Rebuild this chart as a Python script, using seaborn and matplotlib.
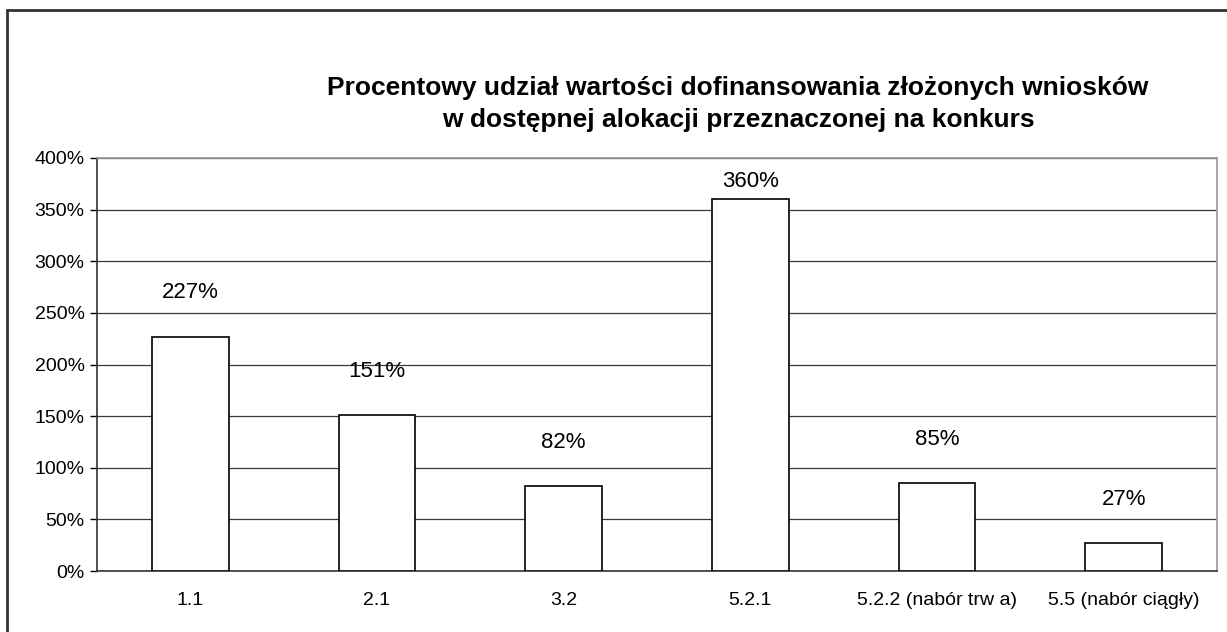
import matplotlib
matplotlib.use("Agg")
import matplotlib.pyplot as plt
import matplotlib.lines as mlines
import seaborn as sns
import pandas as pd

# data
categories = ["1.1", "2.1", "3.2", "5.2.1", "5.2.2 (nabór trw a)", "5.5 (nabór ciągły)"]
shares = [2.27, 1.51, 0.82, 3.60, 0.85, 0.27]
yticks = [0, 0.5, 1.0, 1.5, 2.0, 2.5, 3.0, 3.5, 4.0]

df = pd.DataFrame({"kategoria": categories, "udzial": shares})

sns.set_style("white")
plt.rcParams["font.family"] = ["Liberation Sans", "DejaVu Sans"]
plt.rcParams["text.color"] = "black"
plt.rcParams["xtick.color"] = "black"
plt.rcParams["ytick.color"] = "black"

fig = plt.figure(figsize=(12.27, 6.32), dpi=100)
ax = fig.add_axes([97 / 1227, 61 / 632, 1120 / 1227, 413 / 632])

sns.barplot(data=df, x="kategoria", y="udzial", color="white",
            edgecolor="black", linewidth=1.2, width=0.41, ax=ax, zorder=3)

ax.set_ylim(0, 4.0)

# labels above bars, kept inside the plot area like Excel does
for i, v in enumerate(shares):
    off = 24 if v < 3.3 else 5
    ax.annotate(f"{round(v * 100):d}%", (i, v), xytext=(0, off),
                textcoords="offset points", ha="center", va="bottom",
                fontsize=16, color="black")

ax.set_xlim(-0.5, len(categories) - 0.5)
ax.set_yticks(yticks)
ax.set_yticklabels([f"{int(round(t * 100))}%" for t in yticks], fontsize=14)
ax.yaxis.grid(True, color="#3a3a3a", linewidth=0.9, zorder=0)
ax.set_axisbelow(True)
ax.set_xlabel("")
ax.set_ylabel("")

# category ticks sit on the boundaries, like the original
ax.set_xticks(range(len(categories)))
ax.set_xticklabels(categories, fontsize=14)
ax.set_xticks([i - 0.5 for i in range(len(categories) + 1)], minor=True)
ax.tick_params(axis="x", which="major", length=0, pad=15)
ax.tick_params(axis="x", which="minor", length=5, width=1, color="black", direction="out")
ax.tick_params(axis="y", which="major", length=5, width=1, color="black",
               direction="out", left=True, pad=4)

for side in ["left", "bottom"]:
    ax.spines[side].set_color("#333333")
    ax.spines[side].set_linewidth(1.2)
for side in ["top", "right"]:
    ax.spines[side].set_color("#999999")
    ax.spines[side].set_linewidth(1.2)

fig.text(738 / 1227, 1 - 104 / 632,
         "Procentowy udział wartości dofinansowania złożonych wniosków\n"
         "w dostępnej alokacji przeznaczonej na konkurs",
         ha="center", va="center", fontsize=19, fontweight="bold",
         linespacing=1.42)

# outer chart border (left and top visible)
x0, y0 = 7 / 1227, 1 - 10 / 632
fig.add_artist(mlines.Line2D([x0, x0], [0, y0], transform=fig.transFigure,
                             color="#333333", linewidth=2))
fig.add_artist(mlines.Line2D([x0, 1], [y0, y0], transform=fig.transFigure,
                             color="#333333", linewidth=2))

fig.savefig("out.png", dpi=100)
